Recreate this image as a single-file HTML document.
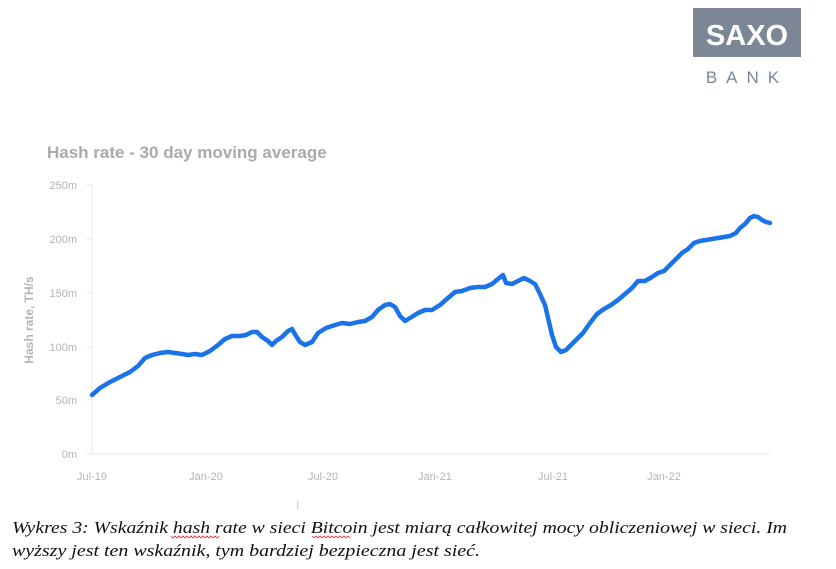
<!DOCTYPE html>
<html><head><meta charset="utf-8"><style>
html,body{margin:0;padding:0;background:#fff;width:836px;height:569px;overflow:hidden}
</style></head><body>
<svg width="836" height="569" xmlns="http://www.w3.org/2000/svg" font-family="Liberation Sans, sans-serif">
<rect x="693" y="8" width="108" height="49" fill="#7d8694"/>
<text x="747" y="45" text-anchor="middle" font-size="29" font-weight="bold" fill="#fff">SAXO</text>
<text x="747" y="83" text-anchor="middle" font-size="17" fill="#7d8694" letter-spacing="9">BANK</text>
<text x="47" y="158" font-size="17" font-weight="bold" fill="#aaaaaa">Hash rate - 30 day moving average</text>
<g stroke="#e8e8e8" stroke-width="1">
<line x1="92" y1="185" x2="92" y2="454"/>
<line x1="92" y1="454" x2="770" y2="454"/>
<line x1="86" y1="185" x2="92" y2="185"/><line x1="86" y1="239" x2="92" y2="239"/><line x1="86" y1="293" x2="92" y2="293"/><line x1="86" y1="347" x2="92" y2="347"/><line x1="86" y1="400" x2="92" y2="400"/><line x1="86" y1="454" x2="92" y2="454"/>
</g>
<g font-size="11" fill="#b5b5b5" text-anchor="end">
<text x="77" y="189">250m</text><text x="77" y="243">200m</text><text x="77" y="297">150m</text><text x="77" y="351">100m</text><text x="77" y="404">50m</text><text x="77" y="458">0m</text>
</g>
<text transform="translate(33,320) rotate(-90)" text-anchor="middle" font-size="12" font-weight="bold" fill="#b5b5b5">Hash rate, TH/s</text>
<g font-size="11" fill="#b5b5b5" text-anchor="middle">
<text x="92" y="480">Jul-19</text><text x="206" y="480">Jan-20</text><text x="323" y="480">Jul-20</text><text x="435" y="480">Jan-21</text><text x="553" y="480">Jul-21</text><text x="664" y="480">Jan-22</text>
</g>
<polyline fill="none" stroke="#1a73e8" stroke-width="4.5" stroke-linejoin="round" stroke-linecap="round" points="92,395 100,388 110,382 120,377 130,372 138,366 145,358 152,355 160,353 168,352 175,353 182,354 188,355 195,354 202,355 210,351 218,345 225,339 232,336 240,336 246,335 252,332 257,332 262,337 268,341 272,345 276,341 282,337 288,331 292,329 296,336 300,342 305,345 312,342 318,333 326,328 335,325 342,323 350,324 358,322 365,321 372,317 378,310 385,305 390,304 395,307 400,316 405,321 410,318 418,313 425,310 432,310 440,305 448,298 455,292 462,291 470,288 478,287 485,287 492,284 498,279 503,275 506,283 512,284 518,281 524,278 530,281 535,284 540,294 545,305 549,322 552,335 556,347 561,352 566,350 571,345 577,339 583,333 590,323 597,314 604,309 611,305 618,300 625,294 632,288 638,281 645,281 652,277 658,273 664,271 670,265 676,259 682,253 688,249 694,243 700,241 706,240 712,239 718,238 724,237 730,236 736,233 740,228 745,224 750,218 754,216 758,217 762,220 766,222 770,223"/>
<text x="296" y="509" font-size="12" fill="#ccc">I</text>
<g font-family="Liberation Serif, serif" font-style="italic" font-size="17" fill="#111">
<text x="12" y="533" textLength="775" lengthAdjust="spacingAndGlyphs">Wykres 3: Wskaźnik hash rate w sieci Bitcoin jest miarą całkowitej mocy obliczeniowej w sieci. Im</text>
<text x="12" y="556" textLength="468" lengthAdjust="spacingAndGlyphs">wyższy jest ten wskaźnik, tym bardziej bezpieczna jest sieć.</text>
</g>
<g stroke="#e03030" stroke-width="0.8" fill="none">
<path d="M171,536 l2,2 l2,-2 l2,2 l2,-2 l2,2 l2,-2 l2,2 l2,-2 l2,2 l2,-2 l2,2 l2,-2 l2,2 l2,-2 l2,2 l2,-2 l2,2 l2,-2 l2,2 l2,-2 l2,2 l2,-2 l2,2 l2,-2"/>
<path d="M312,536 l2,2 l2,-2 l2,2 l2,-2 l2,2 l2,-2 l2,2 l2,-2 l2,2 l2,-2 l2,2 l2,-2 l2,2 l2,-2 l2,2 l2,-2 l2,2 l2,-2 l2,2"/>
</g>
</svg>
</body></html>
